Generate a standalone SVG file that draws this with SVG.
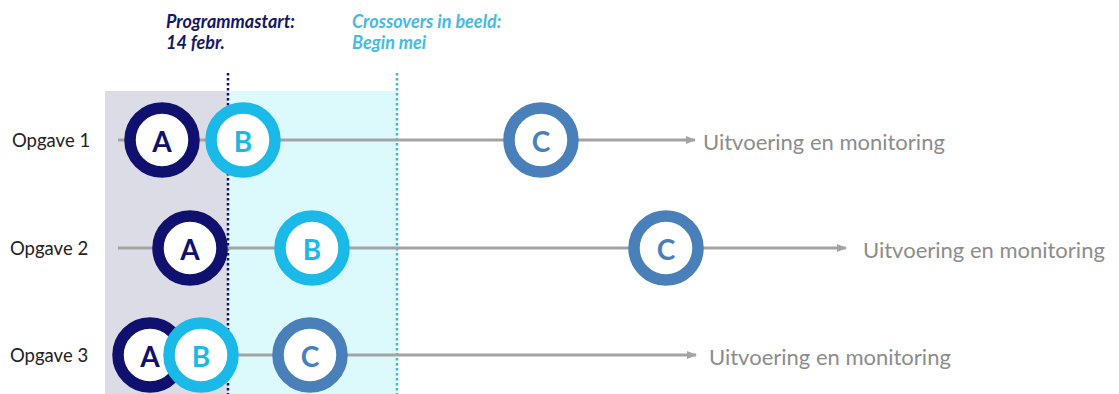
<svg xmlns="http://www.w3.org/2000/svg" width="1119" height="394" viewBox="0 0 1119 394">
<style>
.lbl{font-family:Lato,"Open Sans",sans-serif;font-size:18.5px;fill:#222;dominant-baseline:central}
.out{font-family:Lato,"Open Sans",sans-serif;font-size:22px;fill:#8c8c8c;dominant-baseline:central}
.hdr{font-family:Lato,"Open Sans",sans-serif;font-size:18px;font-weight:bold;font-style:italic}
.ring{fill:#fff;stroke-width:11.5}
.let{font-family:Lato,"Open Sans",sans-serif;font-size:28px;font-weight:bold;text-anchor:middle;dominant-baseline:central}
.a .ring{stroke:#10116e}.a .let{fill:#10116e}
.b .ring{stroke:#1ab9e8}.b .let{fill:#1ab9e8}
.c .ring{stroke:#4a80ba}.c .let{fill:#4a80ba}
.conn{stroke:#a3a3a3;stroke-width:3;fill:none}
</style>
<defs>
<marker id="ah" markerWidth="10" markerHeight="8" refX="9" refY="4" orient="auto" markerUnits="userSpaceOnUse">
<path d="M0,0 L10,4 L0,8 z" fill="#a3a3a3"/>
</marker>
</defs>
<g id="background">
<rect x="105" y="91" width="123" height="303" fill="#dcdce6"/>
<rect x="228" y="91" width="169" height="303" fill="#dcfafc"/>
<line x1="228" y1="73" x2="228" y2="394" stroke="#10116e" stroke-width="2.5" stroke-dasharray="2.5,2.5"/>
<line x1="397" y1="73" x2="397" y2="394" stroke="#3cb8d8" stroke-width="2.5" stroke-dasharray="2.5,2.5"/>
</g>
<g id="headers">
<text class="hdr" x="166" y="28" fill="#15186a">Programmastart:</text>
<text class="hdr" x="166" y="49" fill="#15186a">14 febr.</text>
<text class="hdr" x="352" y="28" fill="#45bbe3">Crossovers  in beeld:</text>
<text class="hdr" x="352" y="49" fill="#45bbe3">Begin mei</text>
</g>
<g id="connectors">
<line class="conn" x1="118" y1="140" x2="695" y2="140" marker-end="url(#ah)"/>
<line class="conn" x1="118" y1="248" x2="846" y2="248" marker-end="url(#ah)"/>
<line class="conn" x1="118" y1="355" x2="696" y2="355" marker-end="url(#ah)"/>
</g>
<g id="labels">
<text class="lbl" x="12" y="140">Opgave 1</text>
<text class="lbl" x="10" y="248">Opgave 2</text>
<text class="lbl" x="10" y="355">Opgave 3</text>
<text class="out" x="703" y="141">Uitvoering en monitoring</text>
<text class="out" x="863" y="249">Uitvoering en monitoring</text>
<text class="out" x="709" y="356">Uitvoering en monitoring</text>
</g>
<g id="r1a" class="a"><circle class="ring" cx="162" cy="140" r="32"/><text class="let" x="162" y="141">A</text></g>
<g id="r1b" class="b"><circle class="ring" cx="243" cy="140" r="32"/><text class="let" x="243" y="141">B</text></g>
<g id="r1c" class="c"><circle class="ring" cx="541" cy="140" r="32"/><text class="let" x="541" y="141">C</text></g>
<g id="r2a" class="a"><circle class="ring" cx="190" cy="248" r="32"/><text class="let" x="190" y="249">A</text></g>
<g id="r2b" class="b"><circle class="ring" cx="312" cy="248" r="32"/><text class="let" x="312" y="249">B</text></g>
<g id="r2c" class="c"><circle class="ring" cx="666" cy="248" r="32"/><text class="let" x="666" y="249">C</text></g>
<g id="r3a" class="a"><circle class="ring" cx="150" cy="355" r="32"/><text class="let" x="150" y="356">A</text></g>
<g id="r3b" class="b"><circle class="ring" cx="201" cy="355" r="32"/><text class="let" x="201" y="356">B</text></g>
<g id="r3c" class="c"><circle class="ring" cx="310" cy="355" r="32"/><text class="let" x="310" y="356">C</text></g>
</svg>
